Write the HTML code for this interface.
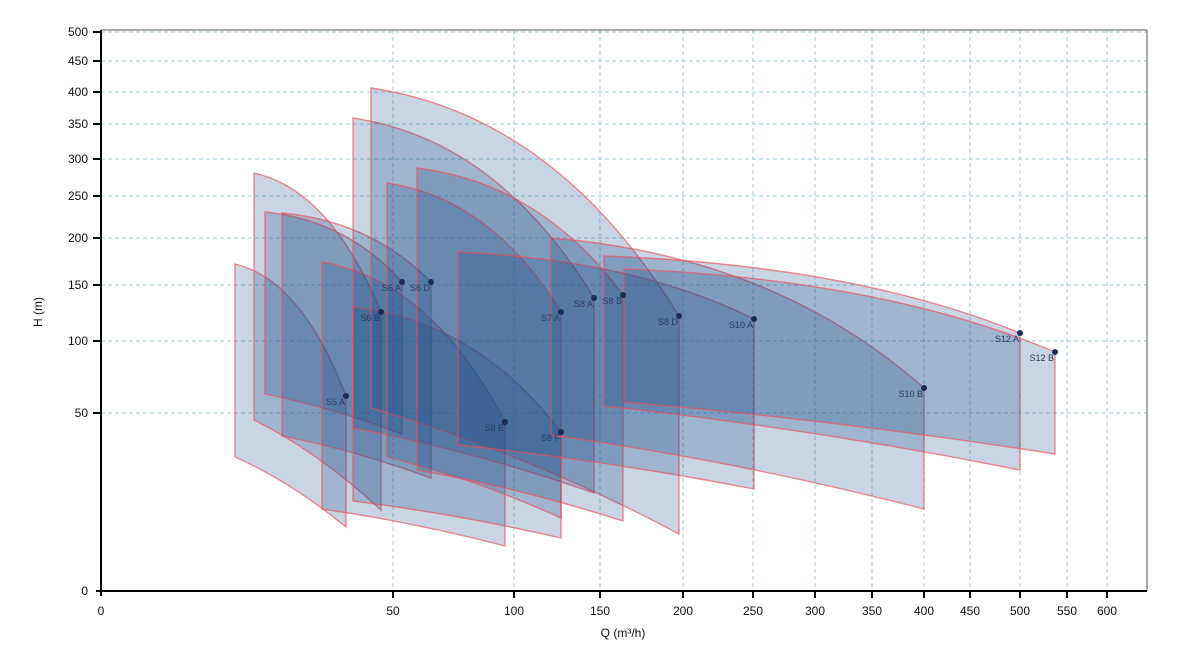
<!DOCTYPE html>
<html><head><meta charset="utf-8"><style>
html,body{margin:0;padding:0;background:#fff;}
svg{display:block;font-family:"Liberation Sans",Arial,sans-serif;}
</style></head><body>
<svg width="1185" height="659" viewBox="0 0 1185 659" xmlns="http://www.w3.org/2000/svg">
<rect width="1185" height="659" fill="#fff"/>
<g stroke="#9fcbd6" stroke-width="1" stroke-dasharray="4,3" fill="none">
<line x1="101" y1="32" x2="1147" y2="32"/>
<line x1="101" y1="61" x2="1147" y2="61"/>
<line x1="101" y1="92" x2="1147" y2="92"/>
<line x1="101" y1="124" x2="1147" y2="124"/>
<line x1="101" y1="159" x2="1147" y2="159"/>
<line x1="101" y1="196" x2="1147" y2="196"/>
<line x1="101" y1="238" x2="1147" y2="238"/>
<line x1="101" y1="285" x2="1147" y2="285"/>
<line x1="101" y1="341" x2="1147" y2="341"/>
<line x1="101" y1="413" x2="1147" y2="413"/>
<line x1="393" y1="30" x2="393" y2="590"/>
<line x1="514" y1="30" x2="514" y2="590"/>
<line x1="600" y1="30" x2="600" y2="590"/>
<line x1="683" y1="30" x2="683" y2="590"/>
<line x1="753" y1="30" x2="753" y2="590"/>
<line x1="815" y1="30" x2="815" y2="590"/>
<line x1="872" y1="30" x2="872" y2="590"/>
<line x1="924" y1="30" x2="924" y2="590"/>
<line x1="970" y1="30" x2="970" y2="590"/>
<line x1="1020" y1="30" x2="1020" y2="590"/>
<line x1="1067" y1="30" x2="1067" y2="590"/>
<line x1="1107" y1="30" x2="1107" y2="590"/>
</g>
<g fill="rgb(25,75,135)" fill-opacity="0.23" stroke="rgb(235,80,90)" stroke-opacity="0.65" stroke-width="1.4">
<path d="M235,264 Q301.6,279.8 346,396 L346,527 Q290.5,481.5 235,457 Z"/>
<path d="M254,173 Q330.2,189.7 381,312 L381,510 Q317.5,451.5 254,420 Z"/>
<path d="M265,212 Q347.2,220.4 402,282 L402,434 Q333.5,408 265,394 Z"/>
<path d="M282,213 Q371.4,221.3 431,282 L431,478 Q356.5,450.7 282,436 Z"/>
<path d="M322,262 Q431.8,281.2 505,422 L505,546 Q413.5,522 322,509 Z"/>
<path d="M353,307 Q477.8,322 561,432 L561,538 Q457,514 353,501 Z"/>
<path d="M353,118 Q497.6,139.6 594,298 L594,493 Q473.5,450.8 353,428 Z"/>
<path d="M371,88 Q555.8,115.4 679,316 L679,534 Q525,452.1 371,408 Z"/>
<path d="M387,183 Q491.4,198.5 561,312 L561,518 Q474,478.4 387,457 Z"/>
<path d="M417,168 Q540.6,183.2 623,295 L623,521 Q520,487.9 417,470 Z"/>
<path d="M458,252 Q635.6,260 754,319 L754,489 Q606,460.4 458,445 Z"/>
<path d="M551,238 Q774.8,256 924,388 L924,509 Q737.5,460.9 551,435 Z"/>
<path d="M604,256 Q853.6,265.2 1020,333 L1020,470 Q812,428.4 604,406 Z"/>
<path d="M624,269 Q882.6,279 1055,352 L1055,454 Q839.5,420.2 624,402 Z"/>
</g>
<g fill="#1b2d55">
<circle cx="346" cy="396" r="3"/><circle cx="381" cy="312" r="3"/><circle cx="402" cy="282" r="3"/><circle cx="431" cy="282" r="3"/><circle cx="505" cy="422" r="3"/><circle cx="561" cy="432" r="3"/><circle cx="594" cy="298" r="3"/><circle cx="679" cy="316" r="3"/><circle cx="561" cy="312" r="3"/><circle cx="623" cy="295" r="3"/><circle cx="754" cy="319" r="3"/><circle cx="924" cy="388" r="3"/><circle cx="1020" cy="333" r="3"/><circle cx="1055" cy="352" r="3"/>
</g>
<g font-size="9" fill="#2a3d66" text-anchor="end">
<text x="345" y="405">S5 A</text><text x="380" y="321">S6 B</text><text x="401" y="291">S6 A</text><text x="430" y="291">S6 D</text><text x="504" y="431">S8 E</text><text x="560" y="441">S8 F</text><text x="593" y="307">S8 A</text><text x="678" y="325">S8 D</text><text x="560" y="321">S7 A</text><text x="622" y="304">S8 B</text><text x="753" y="328">S10 A</text><text x="923" y="397">S10 B</text><text x="1019" y="342">S12 A</text><text x="1054" y="361">S12 B</text>
</g>
<line x1="101" y1="30" x2="1147" y2="30" stroke="#555" stroke-width="1"/>
<line x1="1147" y1="30" x2="1147" y2="591" stroke="#555" stroke-width="1"/>
<line x1="101" y1="30" x2="101" y2="596" stroke="#000" stroke-width="2"/>
<line x1="96" y1="591" x2="1147" y2="591" stroke="#000" stroke-width="2"/>
<g stroke="#000" stroke-width="2">
<line x1="93" y1="32" x2="101" y2="32"/><line x1="93" y1="61" x2="101" y2="61"/><line x1="93" y1="92" x2="101" y2="92"/><line x1="93" y1="124" x2="101" y2="124"/><line x1="93" y1="159" x2="101" y2="159"/><line x1="93" y1="196" x2="101" y2="196"/><line x1="93" y1="238" x2="101" y2="238"/><line x1="93" y1="285" x2="101" y2="285"/><line x1="93" y1="341" x2="101" y2="341"/><line x1="93" y1="413" x2="101" y2="413"/>
<line x1="393" y1="591" x2="393" y2="598"/><line x1="514" y1="591" x2="514" y2="598"/><line x1="600" y1="591" x2="600" y2="598"/><line x1="683" y1="591" x2="683" y2="598"/><line x1="753" y1="591" x2="753" y2="598"/><line x1="815" y1="591" x2="815" y2="598"/><line x1="872" y1="591" x2="872" y2="598"/><line x1="924" y1="591" x2="924" y2="598"/><line x1="970" y1="591" x2="970" y2="598"/><line x1="1020" y1="591" x2="1020" y2="598"/><line x1="1067" y1="591" x2="1067" y2="598"/><line x1="1107" y1="591" x2="1107" y2="598"/>
</g>
<g font-size="12" fill="#111" text-anchor="end">
<text x="88" y="36">500</text><text x="88" y="65">450</text><text x="88" y="96">400</text><text x="88" y="128">350</text><text x="88" y="163">300</text><text x="88" y="200">250</text><text x="88" y="242">200</text><text x="88" y="289">150</text><text x="88" y="345">100</text><text x="88" y="417">50</text><text x="88" y="595">0</text>
</g>
<g font-size="12" fill="#111" text-anchor="middle">
<text x="101" y="615">0</text><text x="393" y="615">50</text><text x="514" y="615">100</text><text x="600" y="615">150</text><text x="683" y="615">200</text><text x="753" y="615">250</text><text x="815" y="615">300</text><text x="872" y="615">350</text><text x="924" y="615">400</text><text x="970" y="615">450</text><text x="1020" y="615">500</text><text x="1067" y="615">550</text><text x="1107" y="615">600</text>
<text x="623" y="637">Q (m³/h)</text>
<text x="0" y="0" transform="translate(42,312) rotate(-90)">H (m)</text>
</g>
</svg>
</body></html>
